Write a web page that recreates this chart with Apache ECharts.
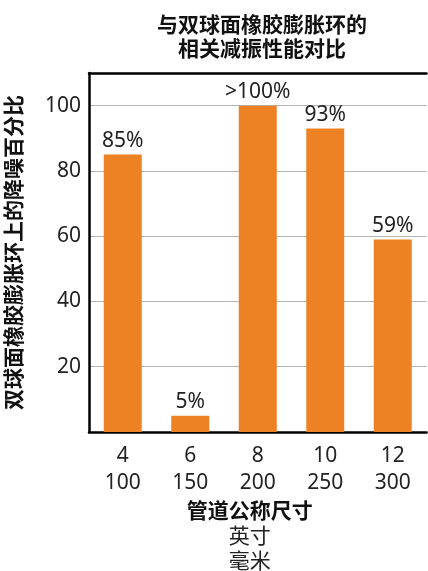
<!DOCTYPE html>
<html>
<head>
<meta charset="utf-8">
<script src="https://cdn.jsdelivr.net/npm/echarts@6/dist/echarts.min.js"></script>
<style>
  html, body { margin: 0; padding: 0; background: #fff; }
  #chart { width: 428px; height: 571px; }
</style>
</head>
<body>
<div id="chart"></div>
<script>
// Pipe nominal sizes (inch / mm) and noise reduction percentage
const sizesInch = ['4', '6', '8', '10', '12'];
const sizesMm = ['100', '150', '200', '250', '300'];
const reduction = [85, 5, 100, 93, 59];
const yTicks = [20, 40, 60, 80, 100];

const FONT = '"Noto Sans", "Noto Sans CJK SC", sans-serif';
const categories = sizesInch.map((s, i) => s + '\n' + sizesMm[i]);

const chart = echarts.init(document.getElementById('chart'));
chart.setOption({
  animation: false,
  textStyle: { fontFamily: FONT },
  title: {
    text: '与双球面橡胶膨胀环的\n相关减振性能对比',
    left: 257,
    top: 9,
    textAlign: 'center',
    textStyle: { fontFamily: FONT, fontSize: 21, fontWeight: 'bold', color: '#111', lineHeight: 24 }
  },
  grid: { left: 89, right: 1.5, top: 73, bottom: 139, containLabel: false, outerBoundsMode: 'none' },
  xAxis: [{
    type: 'category',
    data: categories,
    position: 'bottom',
    axisLine: { lineStyle: { color: '#000', width: 2.5 } },
    axisTick: { show: false },
    axisLabel: { fontFamily: FONT, fontSize: 21, color: '#222', lineHeight: 27, margin: 11 },
    name: '{b|管道公称尺寸}\n{n|英寸}\n{n|毫米}',
    nameLocation: 'middle',
    nameGap: 68,
    nameMoveOverlap: false,
    nameTextStyle: {
      verticalAlign: 'top',
      padding: [0, 16, 0, 0],
      rich: {
        b: { fontFamily: FONT, fontSize: 21, fontWeight: 'bold', color: '#111', lineHeight: 25 },
        n: { fontFamily: FONT, fontSize: 21, color: '#222', lineHeight: 25 }
      }
    }
  }, {
    type: 'category',
    data: categories,
    position: 'top',
    axisLine: { lineStyle: { color: '#000', width: 2.5 } },
    axisTick: { show: false },
    axisLabel: { show: false }
  }],
  yAxis: {
    type: 'value',
    min: 0,
    max: 110,
    interval: 20,
    axisLine: { show: true, lineStyle: { color: '#000', width: 2.5 } },
    axisTick: { show: false },
    axisLabel: {
      fontFamily: FONT, fontSize: 21, color: '#222', margin: 8,
      formatter: v => (yTicks.includes(v) ? String(v) : '')
    },
    splitLine: { lineStyle: { color: '#b4b4b4', width: 1 } },
    name: '双球面橡胶膨胀环上的降噪百分比',
    nameLocation: 'middle',
    nameGap: 63,
    nameMoveOverlap: false,
    nameTextStyle: { fontFamily: FONT, fontSize: 21, fontWeight: 'bold', color: '#111' }
  },
  series: [{
    type: 'bar',
    data: reduction,
    barWidth: 38,
    itemStyle: { color: '#ED8224' },
    label: {
      show: true,
      position: 'top',
      distance: 3,
      fontFamily: FONT,
      fontSize: 21,
      color: '#222',
      formatter: p => (p.value >= 100 ? '>' : '') + p.value + '%'
    }
  }]
});
</script>
</body>
</html>
